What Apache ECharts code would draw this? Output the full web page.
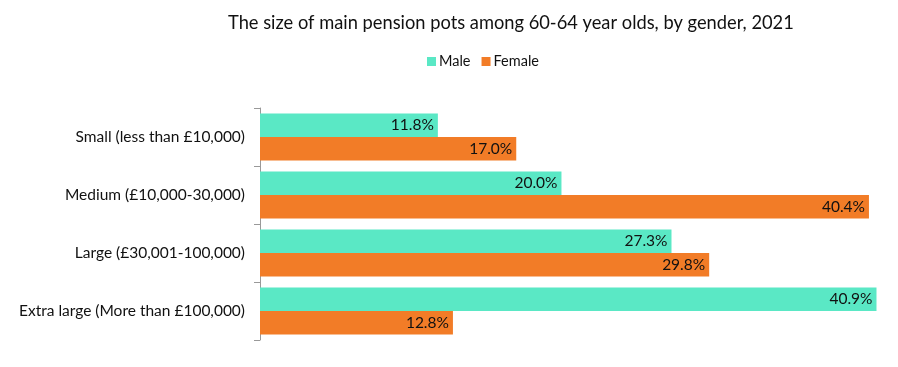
<!DOCTYPE html>
<html><head><meta charset="utf-8">
<script src="https://cdn.jsdelivr.net/npm/echarts@6/dist/echarts.min.js"></script>
<style>html,body{margin:0;padding:0;background:#fff}#c{width:898px;height:367px}</style>
</head><body><div id="c"></div>
<script>
const categories = ["Small (less than £10,000)", "Medium (£10,000-30,000)", "Large (£30,001-100,000)", "Extra large (More than £100,000)"];
const male = [11.8, 20.0, 27.3, 40.9];
const female = [17.0, 40.4, 29.8, 12.8];
const seriesNames = ["Male", "Female"];
const titleText = "The size of main pension pots among 60-64 year olds, by gender, 2021";

const font = "Lato, 'Open Sans', sans-serif";
const chart = echarts.init(document.getElementById('c'));
const lbl = {show:true, position:'insideRight', distance:4, color:'#111', fontSize:15.5, fontFamily:font, formatter: p => p.value.toFixed(1) + '%'};
chart.setOption({
  animation:false,
  title:{text:titleText, left:228, top:9, padding:[5,5,5,0], textStyle:{fontFamily:font, fontWeight:'normal', fontSize:18.3, color:'#111'}},
  legend:{data:seriesNames, top:49, left:422, itemWidth:9, itemHeight:9, itemGap:11, icon:'rect', textStyle:{fontFamily:font, fontSize:14.5, color:'#111', padding:[0,0,0,-2]}, selectedMode:false},
  grid:{left:260, right:20, top:108, bottom:27, containLabel:false},
  xAxis:{type:'value', min:0, max:41, show:false},
  yAxis:{type:'category', data:categories, inverse:true,
    axisLine:{show:true, lineStyle:{color:'#999'}},
    axisTick:{show:true, length:6, lineStyle:{color:'#999'}},
    axisLabel:{fontFamily:font, fontSize:15.5, color:'#111', margin:15}},
  series:[
    {name:seriesNames[0], type:'bar', data:male, itemStyle:{color:'#5AE8C5'}, barGap:'0%', barCategoryGap:'19%', label:lbl},
    {name:seriesNames[1], type:'bar', data:female, itemStyle:{color:'#F27C27'}, barGap:'0%', barCategoryGap:'19%', label:lbl}
  ]
});
</script></body></html>
